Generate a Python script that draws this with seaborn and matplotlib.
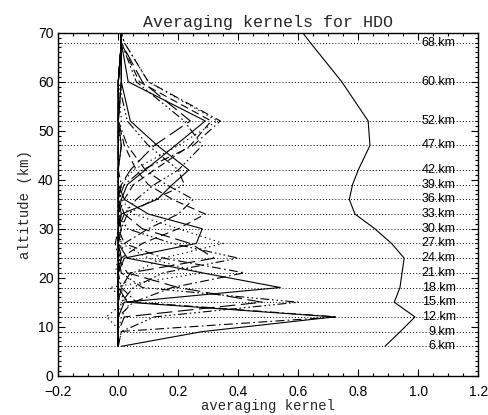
import pandas as pd
import matplotlib
matplotlib.use("Agg")
import matplotlib.pyplot as plt
from matplotlib.ticker import MultipleLocator
import seaborn as sns

# altitude grid (km) and levels that get a dotted guide line + label
altitude = [6, 9, 12, 15, 18, 21, 24, 27, 30, 33, 36, 39, 42, 47, 52, 60, 68, 70]
label_alt = [6, 9, 12, 15, 18, 21, 24, 27, 30, 33, 36, 39, 42, 47, 52, 60, 68]

# row sum of the kernels
total = [0.889, 0.94, 0.989, 0.92, 0.939, 0.946, 0.953, 0.911, 0.855, 0.789,
         0.77, 0.781, 0.80, 0.839, 0.833, 0.745, 0.64, 0.615]

# averaging kernels
ak06 = [0.01, 0.28, 0.72, 0.03, 0.00, 0.00, 0.01, 0.00, 0.00, 0.01, 0.00, 0.00, 0.00, 0.01, 0.00, 0.01, 0.01, 0.01]
ak09 = [0.00, 0.01, -0.04, 0.02, 0.01, -0.01, 0.00, 0.01, 0.00, 0.00, 0.01, 0.00, 0.00, 0.00, 0.01, 0.00, 0.01, 0.01]
ak12 = [0.00, 0.00, 0.73, 0.06, 0.01, 0.00, 0.00, -0.01, 0.00, 0.00, 0.00, 0.01, 0.00, 0.00, 0.00, 0.01, 0.01, 0.01]
ak15 = [0.00, 0.01, 0.12, 0.60, 0.08, 0.01, 0.00, 0.00, 0.01, 0.00, 0.00, 0.00, 0.00, 0.01, 0.00, 0.00, 0.01, 0.01]
ak15b = [0.00, 0.00, 0.02, 0.48, 0.20, 0.03, 0.00, 0.00, 0.00, 0.00, 0.00, 0.00, 0.00, 0.00, 0.00, 0.01, 0.01, 0.01]
ak18 = [0.00, 0.00, 0.00, 0.02, 0.54, 0.28, 0.03, 0.00, 0.01, 0.00, 0.00, 0.00, 0.00, 0.00, 0.00, 0.00, 0.01, 0.01]
ak18b = [0.00, 0.00, 0.01, 0.04, -0.03, 0.28, 0.10, 0.01, 0.00, 0.00, 0.00, 0.00, 0.00, 0.00, 0.00, 0.00, 0.01, 0.01]
ak21 = [0.00, 0.00, 0.00, 0.05, 0.18, 0.42, 0.15, 0.02, 0.00, 0.00, 0.00, 0.00, 0.00, 0.00, 0.00, 0.00, 0.01, 0.01]
ak24 = [0.00, 0.00, 0.00, 0.01, 0.05, 0.15, 0.40, 0.18, 0.03, 0.00, 0.00, 0.00, 0.00, 0.00, 0.00, 0.00, 0.01, 0.01]
ak24b = [0.00, 0.00, 0.00, 0.00, 0.01, 0.04, 0.32, 0.24, 0.08, 0.02, 0.00, 0.00, 0.00, 0.00, 0.00, 0.00, 0.01, 0.01]
ak27 = [0.00, 0.00, 0.00, 0.00, 0.01, 0.05, 0.15, 0.35, 0.20, 0.05, 0.01, 0.00, 0.00, 0.00, 0.00, 0.00, 0.01, 0.01]
ak30 = [0.00, 0.00, 0.00, 0.00, 0.00, 0.00, 0.02, 0.26, 0.28, 0.10, 0.02, 0.00, 0.00, 0.00, 0.00, 0.00, 0.01, 0.01]
ak33 = [0.00, 0.00, 0.00, 0.00, 0.00, 0.00, 0.01, 0.08, 0.20, 0.29, 0.18, 0.10, 0.06, 0.02, 0.00, 0.00, 0.01, 0.01]
ak36 = [0.00, 0.00, 0.00, 0.00, 0.00, 0.00, 0.00, 0.02, 0.10, 0.20, 0.25, 0.16, 0.09, 0.03, 0.00, 0.00, 0.01, 0.01]
ak39 = [0.00, 0.00, 0.00, 0.00, 0.00, 0.00, 0.00, 0.00, 0.01, 0.03, 0.12, 0.22, 0.20, 0.10, 0.03, 0.00, 0.01, 0.01]
ak42 = [0.00, 0.00, 0.00, 0.00, 0.00, 0.00, 0.00, 0.00, 0.00, 0.01, 0.13, 0.18, 0.235, 0.13, 0.04, 0.01, 0.01, 0.01]
ak47 = [0.00, 0.00, 0.00, 0.00, 0.00, 0.00, 0.00, 0.00, 0.00, 0.00, 0.01, 0.03, 0.09, 0.19, 0.29, 0.033, 0.01, 0.01]
ak47b = [0.00, 0.00, 0.00, 0.00, 0.00, 0.00, 0.00, 0.00, 0.00, 0.00, 0.00, 0.01, 0.05, 0.20, 0.33, 0.10, 0.02, 0.01]
ak52 = [0.00, 0.00, 0.00, 0.00, 0.00, 0.00, 0.00, 0.00, 0.00, 0.00, 0.02, 0.05, 0.12, 0.24, 0.31, 0.07, 0.01, 0.01]
ak52b = [0.00, 0.00, 0.00, 0.00, 0.00, 0.00, 0.00, 0.00, 0.00, 0.00, 0.00, 0.02, 0.08, 0.25, 0.34, 0.10, 0.02, 0.01]
ak60 = [0.00, 0.00, 0.00, 0.00, 0.00, 0.00, 0.00, 0.00, 0.00, 0.02, 0.06, 0.12, 0.20, 0.28, 0.22, 0.06, 0.01, 0.01]
ak68 = [0.00, 0.00, 0.00, 0.00, 0.00, 0.00, 0.00, 0.00, 0.00, 0.00, 0.00, 0.01, 0.04, 0.12, 0.24, 0.08, 0.01, 0.01]

# IDL-like line styles
styles = {
    "solid": "",
    "dot": (1.2, 3),
    "dash": (7, 4),
    "dashdot": (8, 3, 1.5, 3),
    "dashdotdot": (8, 2.5, 1.5, 2.5, 1.5, 2.5, 1.5, 2.5),
    "longdash": (14, 5),
}

kernel_list = [
    ("k06", ak06, "solid"), ("k09", ak09, "dot"), ("k12", ak12, "dashdot"),
    ("k15", ak15, "dashdotdot"), ("k15b", ak15b, "longdash"), ("k18", ak18, "solid"),
    ("k18b", ak18b, "dot"), ("k21", ak21, "dashdot"), ("k24", ak24, "dashdotdot"),
    ("k24b", ak24b, "longdash"), ("k27", ak27, "dot"), ("k30", ak30, "solid"),
    ("k33", ak33, "dash"), ("k36", ak36, "dashdot"), ("k39", ak39, "dashdotdot"),
    ("k42", ak42, "solid"), ("k47", ak47, "solid"), ("k47b", ak47b, "dot"),
    ("k52", ak52, "dash"), ("k52b", ak52b, "dashdot"), ("k60", ak60, "dashdotdot"),
    ("k68", ak68, "longdash"),
]

rows = []
for name, vals, st in kernel_list:
    for z, v in zip(altitude, vals):
        rows.append({"kernel": name, "altitude": z, "value": v})
df = pd.DataFrame(rows)
dash_map = {name: styles[st] for name, vals, st in kernel_list}

sns.set_style("ticks")
plt.rcParams["font.family"] = ["Liberation Mono", "DejaVu Sans"]

fig = plt.figure(figsize=(4.88, 4.15), dpi=100)
ax = fig.add_axes([0.1195, 0.0947, 0.8605, 0.8263])

# dotted guide lines at the grid levels
for z in label_alt:
    ax.axhline(z, color="black", lw=0.7, dashes=(1, 2.2), zorder=1)
    ax.text(1.125, z, f"{z}.km", ha="right", va="center", fontsize=9,
            family="Liberation Sans", color="black", zorder=3)

sns.lineplot(data=df, x="value", y="altitude", style="kernel", dashes=dash_map,
             estimator=None, sort=False, color="black", lw=0.8, legend=False, ax=ax)

sns.lineplot(x=total, y=altitude, estimator=None, sort=False, color="black",
             lw=0.8, ax=ax)

ax.set_xlim(-0.2, 1.2)
ax.set_ylim(0, 70)
ax.xaxis.set_major_locator(MultipleLocator(0.2))
ax.xaxis.set_minor_locator(MultipleLocator(0.05))
ax.yaxis.set_major_locator(MultipleLocator(10))
ax.yaxis.set_minor_locator(MultipleLocator(1))
ax.tick_params(which="both", direction="in", top=True, right=True, width=0.8,
               labelsize=10, colors="black")
ax.tick_params(which="major", length=5)
ax.tick_params(which="minor", length=2.5)
ax.tick_params(axis="x", which="major", pad=7)
ax.tick_params(axis="y", which="major", pad=3.5)
ax.set_xticks(ax.get_xticks())
ax.set_xticklabels([f"{t:.1f}".replace("-", "\u2212") for t in ax.get_xticks()])
for lab in ax.get_xticklabels() + ax.get_yticklabels():
    lab.set_family("Liberation Sans")
ax.set_xlim(-0.2, 1.2)
for sp in ax.spines.values():
    sp.set_linewidth(1.0)
    sp.set_color("black")

ax.set_title("Averaging kernels for HDO", fontsize=12, pad=4)
ax.set_xlabel("averaging kernel", fontsize=10, labelpad=0)
ax.set_ylabel("altitude (km)", fontsize=10, labelpad=4)

fig.savefig("out.png", dpi=100)
